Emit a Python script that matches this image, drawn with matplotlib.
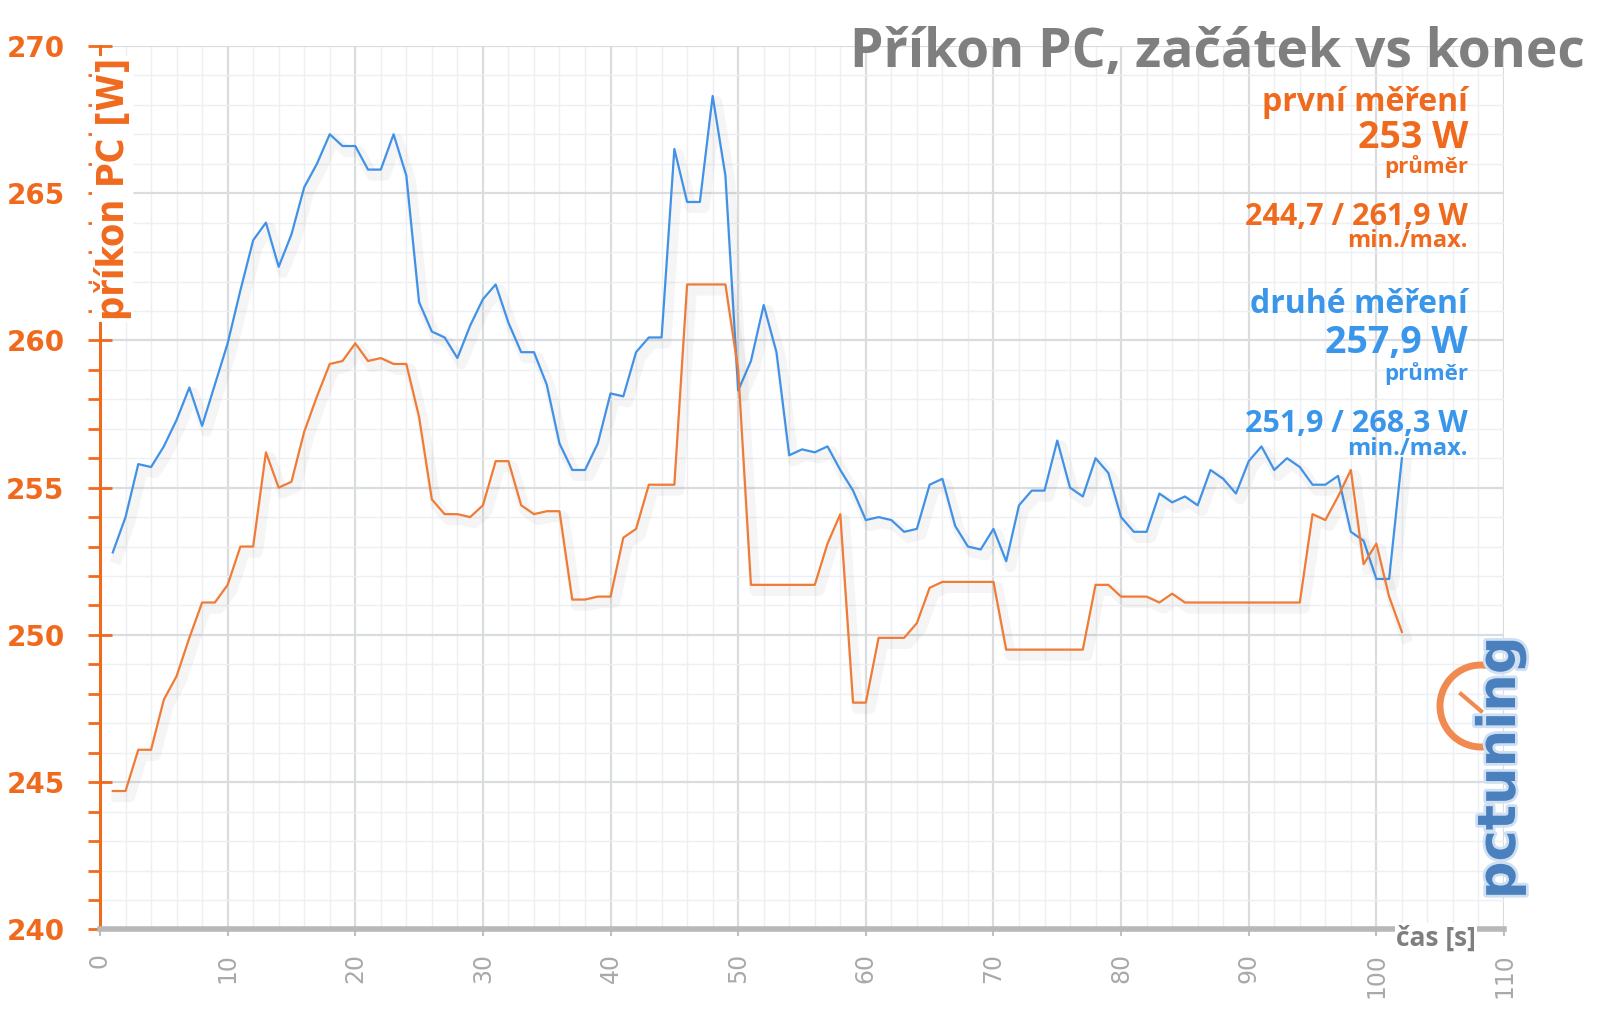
import numpy as np
import matplotlib
matplotlib.use('Agg')
import matplotlib.pyplot as plt
from matplotlib import patheffects
from matplotlib.patches import Arc
from matplotlib.ticker import MultipleLocator

# measured power draw, one sample per second
seconds = list(range(1, 103))
druhe = [252.8, 254.0, 255.8, 255.7, 256.4, 257.3, 258.4, 257.1, 258.5, 259.9,
         261.7, 263.4, 264.0, 262.5, 263.6, 265.2, 266.0, 267.0, 266.6, 266.6,
         265.8, 265.8, 267.0, 265.6, 261.3, 260.3, 260.1, 259.4, 260.5, 261.4,
         261.9, 260.6, 259.6, 259.6, 258.5, 256.5, 255.6, 255.6, 256.5, 258.2,
         258.1, 259.6, 260.1, 260.1, 266.5, 264.7, 264.7, 268.3, 265.6, 258.3,
         259.3, 261.2, 259.6, 256.1, 256.3, 256.2, 256.4, 255.6, 254.9, 253.9,
         254.0, 253.9, 253.5, 253.6, 255.1, 255.3, 253.7, 253.0, 252.9, 253.6,
         252.5, 254.4, 254.9, 254.9, 256.6, 255.0, 254.7, 256.0, 255.5, 254.0,
         253.5, 253.5, 254.8, 254.5, 254.7, 254.4, 255.6, 255.3, 254.8, 255.9,
         256.4, 255.6, 256.0, 255.7, 255.1, 255.1, 255.4, 253.5, 253.2, 251.9,
         251.9, 256.0]
prvni = [244.7, 244.7, 246.1, 246.1, 247.8, 248.6, 249.9, 251.1, 251.1, 251.7,
         253.0, 253.0, 256.2, 255.0, 255.2, 256.9, 258.1, 259.2, 259.3, 259.9,
         259.3, 259.4, 259.2, 259.2, 257.4, 254.6, 254.1, 254.1, 254.0, 254.4,
         255.9, 255.9, 254.4, 254.1, 254.2, 254.2, 251.2, 251.2, 251.3, 251.3,
         253.3, 253.6, 255.1, 255.1, 255.1, 261.9, 261.9, 261.9, 261.9, 259.0,
         251.7, 251.7, 251.7, 251.7, 251.7, 251.7, 253.1, 254.1, 247.7, 247.7,
         249.9, 249.9, 249.9, 250.4, 251.6, 251.8, 251.8, 251.8, 251.8, 251.8,
         249.5, 249.5, 249.5, 249.5, 249.5, 249.5, 249.5, 251.7, 251.7, 251.3,
         251.3, 251.3, 251.1, 251.4, 251.1, 251.1, 251.1, 251.1, 251.1, 251.1,
         251.1, 251.1, 251.1, 251.1, 254.1, 253.9, 254.7, 255.6, 252.4, 253.1,
         251.3, 250.1]

ORANGE = '#f06a1e'
BLUE_LINE = '#4192e6'
ORANGE_LINE = '#ef7b36'
BLUE_TXT = '#3a96ea'
GRAY = '#7f7f7f'

W, H = 1600, 1013
fig = plt.figure(figsize=(16, 10.13), dpi=100)
ax = fig.add_axes([100 / W, 1 - 929.4 / H, 1404 / W, 883.5 / H])


def fx(px):
    return px / W


def fy(py):
    return 1 - py / H


shadow = [patheffects.SimpleLineShadow(offset=(3, -4), alpha=0.06, linewidth=8,
                                       shadow_color='#555555'),
          patheffects.Normal()]
ax.plot(seconds, druhe, color=BLUE_LINE, lw=1.6, path_effects=shadow, zorder=3)
ax.plot(seconds, prvni, color=ORANGE_LINE, lw=1.6, path_effects=shadow, zorder=3)

ax.set_xlim(0, 110)
ax.set_ylim(240, 270)
ax.xaxis.set_major_locator(MultipleLocator(10))
ax.xaxis.set_minor_locator(MultipleLocator(2))
ax.yaxis.set_major_locator(MultipleLocator(5))
ax.yaxis.set_minor_locator(MultipleLocator(1))

ax.grid(which='major', color='#dadcdf', lw=1.6, zorder=0)
ax.grid(which='minor', color='#eeeff2', lw=1.0, zorder=0)
ax.set_axisbelow(True)

for s in ('top', 'right'):
    ax.spines[s].set_visible(False)
ax.spines['left'].set_color(ORANGE)
ax.spines['left'].set_linewidth(2.2)
ax.spines['bottom'].set_color('#b8b8b8')
ax.spines['bottom'].set_linewidth(4)

ax.tick_params(axis='y', which='major', direction='inout', length=17, width=2,
               color=ORANGE, pad=17, labelsize=20, labelcolor=ORANGE)
ax.tick_params(axis='y', which='minor', direction='out', length=8.5, width=2,
               color=ORANGE)
ax.tick_params(axis='x', which='major', direction='out', length=5, width=1.5,
               color='#c0c0c0', pad=12, labelsize=17, labelcolor='#a9a9a9',
               labelrotation=90)
ax.tick_params(axis='x', which='minor', length=0)
for lab in ax.get_yticklabels():
    lab.set_fontweight('bold')
    lab.set_family('DejaVu Sans')

# axis titles
fig.text(fx(113), fy(189), 'příkon PC [W]', rotation=90, ha='center', va='center',
         fontsize=27, fontweight='bold', fontstretch='condensed', color=ORANGE,
         bbox=dict(facecolor='white', edgecolor='none', pad=1))
fig.text(fx(1476), fy(938), 'čas [s]', ha='right', va='center', fontsize=19,
         fontweight='bold', color=GRAY, family='Open Sans',
         bbox=dict(facecolor='white', edgecolor='none', pad=1))

# title
fig.text(fx(1585), fy(67), 'Příkon PC, začátek vs konec', ha='right',
         va='baseline', fontsize=38.5, fontweight='bold', color=GRAY,
         family='Open Sans')

# summary texts
notes = [
    ('první měření', 111, 23, ORANGE),
    ('253 W', 148, 27, ORANGE),
    ('průměr', 173, 16, ORANGE),
    ('244,7 / 261,9 W', 225, 22, ORANGE),
    ('min./max.', 247, 17, ORANGE),
    ('druhé měření', 313, 23, BLUE_TXT),
    ('257,9 W', 353, 27, BLUE_TXT),
    ('průměr', 380, 16, BLUE_TXT),
    ('251,9 / 268,3 W', 432, 22, BLUE_TXT),
    ('min./max.', 455, 17, BLUE_TXT),
]
for txt, yb, size, col in notes:
    fig.text(fx(1468), fy(yb), txt, ha='right', va='baseline', fontsize=size,
             fontweight='bold', color=col, family='Open Sans')

# pctuning logo
fig.text(fx(1500), fy(768), 'pctuning', rotation=90, ha='center', va='center',
         fontsize=38, fontweight='bold', color='#4a80bd', family='DejaVu Sans',
         path_effects=[patheffects.withStroke(linewidth=4, foreground='#cfe0f2')])
arc = Arc((14.81, (H - 706) / 100), 0.82, 0.82, theta1=80, theta2=280,
          transform=fig.dpi_scale_trans, color='#f08a50', lw=5)
fig.add_artist(arc)
fig.add_artist(plt.Line2D([14.81 - 0.2, 14.81], [(H - 706) / 100 + 0.12, (H - 706) / 100 - 0.05],
                          transform=fig.dpi_scale_trans, color='#f08a50', lw=3))

fig.savefig('out.png', dpi=100, facecolor='white')
